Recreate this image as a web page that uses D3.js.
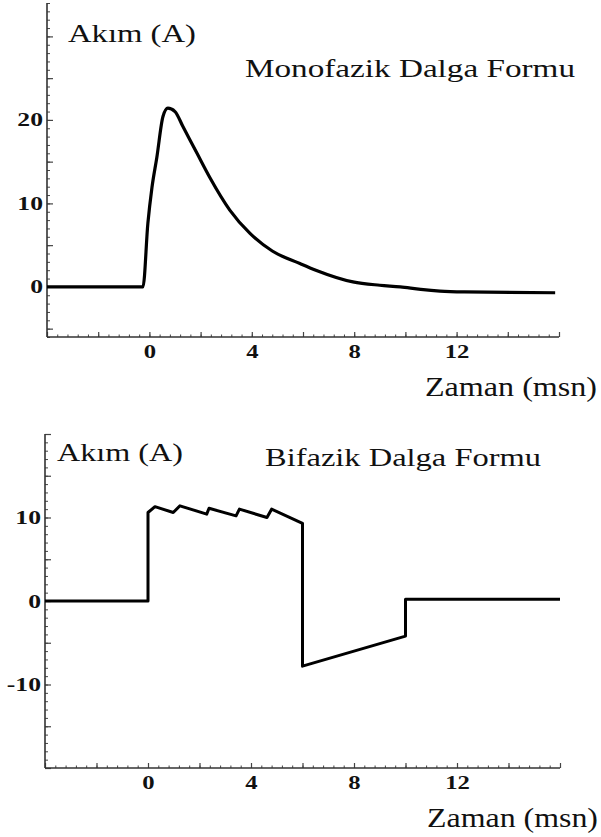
<!DOCTYPE html>
<html>
<head>
<meta charset="utf-8">
<script src="https://cdn.jsdelivr.net/npm/d3@7"></script>
<style>
  html, body { margin: 0; padding: 0; background: #fff; }
  svg { display: block; }
  text { font-family: "Liberation Serif", "Times New Roman", serif; fill: #111; }
</style>
</head>
<body>
<svg id="chart" width="601" height="837"></svg>
<script>
// ---------- DATA ----------
// Monophasic waveform (time in ms, current in A)
const monoTime    = [-4, -0.25, -0.06, 0.1, 0.29, 0.53, 0.72, 1.0, 1.31, 1.86, 2.36, 3.14, 3.93, 4.8, 5.88, 6.5, 7.95, 9.0, 9.8, 10.6, 11.35, 12.3, 15.85];
const monoCurrent = [0, 0, 7.6, 11.9, 15.5, 20.4, 21.4, 21.0, 19.2, 16.0, 13.1, 9.2, 6.4, 4.3, 2.8, 2.0, 0.6, 0.2, 0.0, -0.3, -0.5, -0.6, -0.7];

// Biphasic waveform
const biTime    = [-4, 0, 0, 0.27, 0.98, 1.24, 2.28, 2.37, 3.42, 3.55, 4.62, 4.8, 6.0, 6.0, 10.0, 10.0, 16];
const biCurrent = [0, 0, 10.6, 11.3, 10.6, 11.4, 10.4, 11.1, 10.2, 11.0, 10.0, 11.0, 9.3, -7.8, -4.2, 0.2, 0.2];

// Axis domains and tick labels
const timeDomain      = [-4, 16];
const monoYDomain     = [-6, 34];
const biYDomain       = [-20, 20];
const timeTickLabels  = [0, 4, 8, 12];
const monoYTickLabels = [0, 10, 20];
const biYTickLabels   = [-10, 0, 10];

const yAxisTitle   = "Akım (A)";
const xAxisTitle   = "Zaman (msn)";
const monoTitle    = "Monofazik Dalga Formu";
const biTitle      = "Bifazik Dalga Formu";

// ---------- DRAW ----------
const svg = d3.select("#chart");
const plainFmt = d => String(d);

function stretch(sel, factor) {
  sel.each(function () {
    const len = this.getComputedTextLength();
    d3.select(this).attr("textLength", len * factor).attr("lengthAdjust", "spacingAndGlyphs");
  });
}

function drawPanel(cfg) {
  const x = d3.scaleLinear().domain(timeDomain).range([cfg.left, cfg.right]);
  const y = d3.scaleLinear().domain(cfg.yDomain).range([cfg.bottom, cfg.top]);
  const g = svg.append("g");

  // x ticks
  const minorX = d3.range(0, 51).map(i => timeDomain[0] + i * 0.4).filter(v => v <= timeDomain[1] + 1e-9);
  const majorX = d3.range(timeDomain[0], timeDomain[1] + 0.001, 2);
  g.append("g").attr("transform", `translate(0,${cfg.bottom})`)
    .call(d3.axisBottom(x).tickValues(minorX).tickSize(-2.5).tickFormat(""))
    .call(a => a.select(".domain").remove())
    .call(a => a.selectAll("line").attr("stroke", "#444").attr("stroke-width", 1));
  g.append("g").attr("transform", `translate(0,${cfg.bottom})`)
    .call(d3.axisBottom(x).tickValues(majorX).tickSize(-5).tickFormat(""))
    .call(a => a.select(".domain").remove())
    .call(a => a.selectAll("line").attr("stroke", "#444").attr("stroke-width", 1.2));
  const xl = g.append("g").attr("transform", `translate(0,${cfg.bottom})`)
    .call(d3.axisBottom(x).tickValues(timeTickLabels).tickSize(0).tickPadding(8).tickFormat(plainFmt))
    .call(a => a.select(".domain").remove());
  xl.selectAll("text").attr("font-size", 19).attr("font-weight", "bold")
    .attr("font-family", "Liberation Serif").attr("fill", "#222");
  stretch(xl.selectAll("text"), 1.3);

  // y ticks
  const minorY = d3.range(cfg.yDomain[0], cfg.yDomain[1] + 0.001, 1);
  const majorY = d3.range(Math.ceil(cfg.yDomain[0] / 5) * 5, cfg.yDomain[1] + 0.001, 5);
  g.append("g").attr("transform", `translate(${cfg.left},0)`)
    .call(d3.axisLeft(y).tickValues(minorY).tickSize(-3).tickFormat(""))
    .call(a => a.select(".domain").remove())
    .call(a => a.selectAll("line").attr("stroke", "#444").attr("stroke-width", 1));
  g.append("g").attr("transform", `translate(${cfg.left},0)`)
    .call(d3.axisLeft(y).tickValues(majorY).tickSize(-6).tickFormat(""))
    .call(a => a.select(".domain").remove())
    .call(a => a.selectAll("line").attr("stroke", "#444").attr("stroke-width", 1.2));
  const yl = g.append("g").attr("transform", `translate(${cfg.left},0)`)
    .call(d3.axisLeft(y).tickValues(cfg.yLabels).tickSize(0).tickPadding(4).tickFormat(plainFmt))
    .call(a => a.select(".domain").remove());
  yl.selectAll("text").attr("font-size", 19).attr("font-weight", "bold")
    .attr("font-family", "Liberation Serif").attr("fill", "#222");
  stretch(yl.selectAll("text"), 1.35);

  // axis lines
  g.append("line").attr("x1", cfg.left).attr("x2", cfg.left)
    .attr("y1", y(cfg.yDomain[1])).attr("y2", cfg.bottom)
    .attr("stroke", "#333").attr("stroke-width", 1.6);
  g.append("line").attr("x1", cfg.left).attr("x2", x(timeDomain[1]))
    .attr("y1", cfg.bottom).attr("y2", cfg.bottom)
    .attr("stroke", "#333").attr("stroke-width", 1.6);

  // curve
  const pts = cfg.xs.map((t, i) => [t, cfg.ys[i]]);
  g.append("path")
    .datum(pts)
    .attr("fill", "none")
    .attr("stroke", "#000")
    .attr("stroke-width", cfg.lineWidth)
    .attr("stroke-linejoin", "round")
    .attr("d", d3.line().x(d => x(d[0])).y(d => y(d[1])).curve(cfg.curve));

  // texts
  cfg.texts.forEach(t => {
    g.append("text").attr("x", t.x).attr("y", t.y)
      .attr("font-size", t.size)
      .attr("textLength", t.w).attr("lengthAdjust", "spacingAndGlyphs")
      .text(t.s);
  });
}

drawPanel({
  left: 47, right: 559, top: 3, bottom: 337,
  yDomain: monoYDomain, yLabels: monoYTickLabels,
  xs: monoTime, ys: monoCurrent, curve: d3.curveMonotoneX, lineWidth: 3.2,
  texts: [
    { s: yAxisTitle, x: 68, y: 42, size: 26, w: 128 },
    { s: monoTitle, x: 245, y: 77, size: 26, w: 330 },
    { s: xAxisTitle, x: 425, y: 396, size: 27, w: 172 }
  ]
});

drawPanel({
  left: 45, right: 560, top: 434, bottom: 768,
  yDomain: biYDomain, yLabels: biYTickLabels,
  xs: biTime, ys: biCurrent, curve: d3.curveLinear, lineWidth: 3,
  texts: [
    { s: yAxisTitle, x: 57, y: 461, size: 26, w: 126 },
    { s: biTitle, x: 265, y: 466, size: 26, w: 276 },
    { s: xAxisTitle, x: 427, y: 827, size: 27, w: 171 }
  ]
});
</script>
</body>
</html>
